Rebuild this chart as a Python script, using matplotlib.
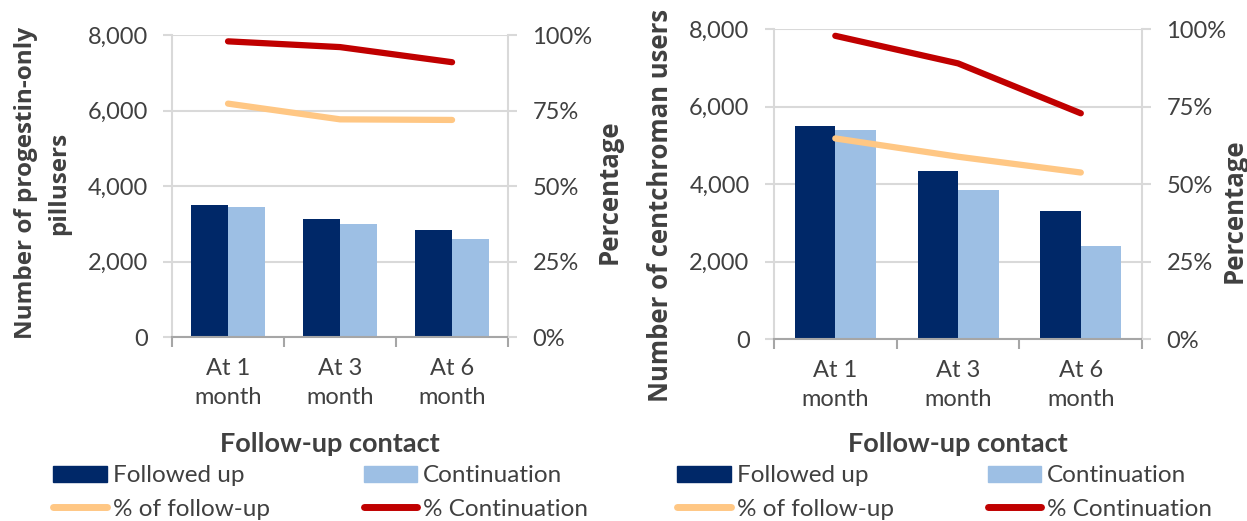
import matplotlib
matplotlib.use("Agg")
import matplotlib.pyplot as plt
import matplotlib.patches as mpatches
from matplotlib.lines import Line2D
from matplotlib.ticker import FuncFormatter, FixedLocator
import numpy as np

# follow-up contacts
months = ["At 1\nmonth", "At 3\nmonth", "At 6\nmonth"]

# progestin-only pill users
pop_followed = [3490, 3120, 2850]
pop_continued = [3440, 3000, 2590]
pop_pct_followup = [77.3, 72.1, 71.9]
pop_pct_continued = [97.9, 96.0, 91.0]

# centchroman users
cen_followed = [5500, 4340, 3310]
cen_continued = [5400, 3850, 2415]
cen_pct_followup = [64.8, 58.9, 53.8]
cen_pct_continued = [97.9, 89.0, 72.9]

NAVY = "#002868"
LIGHT = "#9DBFE4"
RED = "#C00000"
ORANGE = "#FFC784"
TXT = "#404040"
GRID = "#D9D9D9"

TICK_FONT = "Lato"
TITLE_FONT = "Open Sans"
TICK_SIZE = 17

fig = plt.figure(figsize=(12.47, 5.21), dpi=100)


def draw_panel(rect, followed, continued, pct_fu, pct_cont):
    ax = fig.add_axes(rect)
    x = np.arange(len(months))
    w = 0.33
    ax.bar(x - w / 2, followed, w, color=NAVY, zorder=2)
    ax.bar(x + w / 2, continued, w, color=LIGHT, zorder=2)
    ax.set_xlim(-0.5, len(months) - 0.5)
    ax.set_ylim(0, 8000)
    ax.set_yticks([0, 2000, 4000, 6000, 8000])
    ax.yaxis.set_major_formatter(FuncFormatter(lambda v, p: f"{int(v):,}"))
    ax.grid(axis="y", color=GRID, lw=1.5, zorder=0)
    ax.set_axisbelow(True)

    ax.set_xticks(x)
    ax.set_xticklabels(months, fontsize=TICK_SIZE, color=TXT, family=TICK_FONT,
                       linespacing=1.45)
    ax.xaxis.set_minor_locator(FixedLocator(np.arange(-0.5, len(months), 1)))
    ax.tick_params(axis="x", which="major", length=0, pad=15)
    ax.tick_params(axis="x", which="minor", length=7, width=1.5, color="#A6A6A6")
    ax.tick_params(axis="y", length=6.5, width=1.5, color=GRID, pad=11,
                   labelsize=TICK_SIZE, labelcolor=TXT)
    for t in ax.get_yticklabels():
        t.set_family(TICK_FONT)

    for s in ["left", "right", "top"]:
        ax.spines[s].set_color(GRID)
        ax.spines[s].set_linewidth(1.5)
    ax.spines["top"].set_visible(False)
    ax.spines["bottom"].set_color("#A6A6A6")
    ax.spines["bottom"].set_linewidth(1.5)

    ax2 = ax.twinx()
    ax2.plot(x, pct_fu, color=ORANGE, lw=4.5, solid_capstyle="round",
             solid_joinstyle="round", zorder=3)
    ax2.plot(x, pct_cont, color=RED, lw=4.5, solid_capstyle="round",
             solid_joinstyle="round", zorder=3)
    ax2.set_ylim(0, 100)
    ax2.set_yticks([0, 25, 50, 75, 100])
    ax2.yaxis.set_major_formatter(FuncFormatter(lambda v, p: f"{int(v)}%"))
    ax2.tick_params(axis="y", length=6.5, width=1.5, color=GRID, pad=11,
                    labelsize=TICK_SIZE, labelcolor=TXT)
    for t in ax2.get_yticklabels():
        t.set_family(TICK_FONT)
    for s in ax2.spines.values():
        s.set_visible(False)
    return ax, ax2


def add_legends(ax, x1, x2):
    # two stacked columns, each its own legend
    col1 = [mpatches.Patch(color=NAVY, label="Followed up"),
            Line2D([0], [0], color=ORANGE, lw=5, solid_capstyle="round",
                   label="% of follow-up")]
    col2 = [mpatches.Patch(color=LIGHT, label="Continuation"),
            Line2D([0], [0], color=RED, lw=5, solid_capstyle="round",
                   label="% Continuation")]
    kw = dict(loc="center left", frameon=False, borderpad=0, borderaxespad=0,
              handlelength=2.2, handleheight=0.6, handletextpad=0.25,
              labelspacing=0.5, bbox_transform=fig.transFigure,
              prop={"family": TICK_FONT, "size": 17.5})
    y = 1 - 492.5 / 521
    leg1 = ax.legend(handles=col1, bbox_to_anchor=(x1 / 1247, y), **kw)
    for t in leg1.get_texts():
        t.set_color(TXT)
    ax.add_artist(leg1)
    leg2 = ax.legend(handles=col2, bbox_to_anchor=(x2 / 1247, y), **kw)
    for t in leg2.get_texts():
        t.set_color(TXT)


def ftext(px, py, s, **kw):
    fig.text(px / 1247, 1 - py / 521, s, ha="center", va="center", **kw)


label_kw = dict(rotation=90, fontweight="bold", color=TXT, family=TITLE_FONT)
xlabel_kw = dict(fontsize=19.5, fontweight="bold", color=TXT, family=TICK_FONT)

# left panel: progestin-only pills
axL, axL2 = draw_panel([172 / 1247, 1 - 337.3 / 521, 336.1 / 1247, 302.3 / 521],
                       pop_followed, pop_continued, pop_pct_followup, pop_pct_continued)
ftext(42.5, 183, "Number of progestin-only\npillusers", linespacing=1.5,
      multialignment="center", fontsize=17.5, **label_kw)
ftext(609, 192, "Percentage", fontsize=18.5, **label_kw)
ftext(330, 444, "Follow-up contact", **xlabel_kw)
add_legends(axL, 53.4, 363.8)

# right panel: centchroman
axR, axR2 = draw_panel([773.9 / 1247, 1 - 339.3 / 521, 368.3 / 1247, 310 / 521],
                       cen_followed, cen_continued, cen_pct_followup, cen_pct_continued)
ftext(660, 205, "Number of centchroman users", fontsize=18.5, **label_kw)
ftext(1234, 211, "Percentage", fontsize=18.5, **label_kw)
ftext(958, 444, "Follow-up contact", **xlabel_kw)
add_legends(axR, 677.2, 987.8)

fig.savefig("out.png", dpi=100)
